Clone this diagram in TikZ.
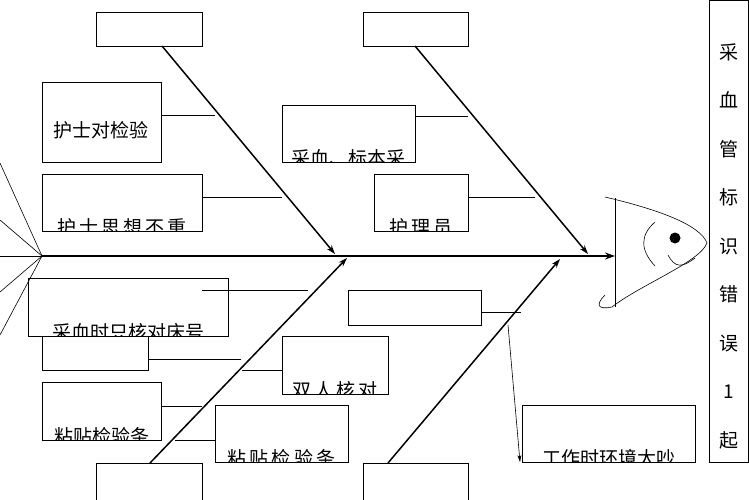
\documentclass[tikz,border=0pt]{standalone}
\usepackage{fontspec}
\setmainfont{Noto Sans CJK SC}
\usetikzlibrary{arrows.meta}
\newcommand{\clipbox}[5]{% x1,y1,x2,y2,text
  \begin{scope}\clip (#1,#2) rectangle (#3,#4);
  \node[lbl,anchor=base] at ({(#1+#3)/2},{#4+3}) {#5};\end{scope}
  \draw[bx] (#1,#2) rectangle (#3,#4);}
\begin{document}
\begin{tikzpicture}[x=1pt,y=-1pt,
  bx/.style={draw,line width=0.8pt},
  lbl/.style={font=\fontsize{19}{19}\selectfont,inner sep=0pt},
  bone/.style={line width=1.5pt,-{Stealth[length=9pt,width=6pt]}},
  br/.style={line width=0.6pt}]
\useasboundingbox (0,0) rectangle (749,500);
% boxes
\draw[bx] (96,12) rectangle (202,46);
\draw[bx] (363,12) rectangle (468,46);
\draw[bx] (96,463) rectangle (202,505);
\draw[bx] (363,463) rectangle (468,505);
\draw[bx] (42,82) rectangle (161,162); \node[lbl] (a1) at (101,130) {护士对检验};
\clipbox{42}{174}{202}{231}{护\,士\,思\,想\,不\,重}
\clipbox{282}{105}{415}{162}{采血、标本采}
\clipbox{374}{174}{468}{231}{护\,理\,员}
\clipbox{28}{278}{228}{336}{采血时只核对床号}
\draw[bx] (42,336) rectangle (148,370);
\clipbox{282}{336}{388}{394}{双\,人\,核\,对}
\clipbox{42}{382}{161}{440}{粘贴检验条}
\clipbox{215}{405}{348}{462}{粘\,贴\,检\,验\,条}
\draw[bx] (348,290) rectangle (481,325);
\clipbox{522}{405}{695}{462}{工作时环境太吵}
\draw[bx] (709,0) rectangle (748.5,462);
\node[lbl,align=center,font=\fontsize{19}{48.5}\selectfont] (tt) at (729,246) {采\\血\\管\\标\\识\\错\\误\\1\\起};
% tail
\coordinate (tail) at (42,256);
\foreach \y in {163,220,256,292,335} \draw[br] (tail) -- (0,\y);
% spine
\coordinate (head) at (615,256);
\draw[line width=2.6pt,-{Stealth[length=10pt,width=7pt]}] (tail) -- (head);
% bones
\draw[bone] (162,46) -- (335,254);
\draw[bone] (415,46) -- (588,254);
\draw[bone] (150,463) -- (347,258);
\draw[bone] (388,463) -- (560,259);
% branches
\draw[br] (161,115) -- (215,115);
\draw[br] (202,197) -- (282,197);
\draw[br] (415,116) -- (468,116);
\draw[br] (468,197) -- (535,197);
\draw[br] (202,290) -- (308,290);
\draw[br] (148,359) -- (241,359);
\draw[br] (242,370) -- (282,370);
\draw[br] (161,406) -- (202,406);
\draw[br] (175,440) -- (215,440);
\draw[br] (481,312) -- (521,312);
\draw[br,-{Stealth[length=7pt,width=4pt]}] (508,325) -- (520,462);
% head
\draw[br] (615,198) -- (615,307);
\draw[br] (605,197) .. controls (660,210) and (700,225) .. (707,243) .. controls (700,262) and (640,285) .. (612,307) .. controls (598,310) and (595,305) .. (605,295);
\fill (675,238) circle (5.5);
\draw[br] (655,222) .. controls (640,235) and (640,250) .. (655,266);
\draw[br] (668,255) .. controls (675,268) and (682,268) .. (695,258);
\end{tikzpicture}
\end{document}
